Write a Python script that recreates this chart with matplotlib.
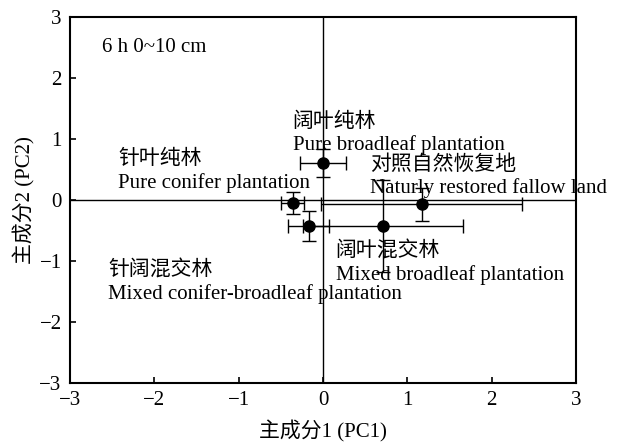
import matplotlib
matplotlib.use('Agg')
import matplotlib.pyplot as plt

plt.rcParams['font.family'] = ['Liberation Serif', 'Noto Sans CJK SC']
plt.rcParams['axes.unicode_minus'] = True

# PCA scores (mean +/- error) per forest type
names_cn = ['阔叶纯林', '针叶纯林', '对照自然恢复地', '阔叶混交林', '针阔混交林']
names_en = ['Pure broadleaf plantation', 'Pure conifer plantation',
            'Naturly restored fallow land', 'Mixed broadleaf plantation',
            'Mixed conifer-broadleaf plantation']
pc1 = [0.0, -0.36, 1.17, 0.71, -0.17]
pc2 = [0.60, -0.05, -0.07, -0.43, -0.43]
pc1_err = [0.27, 0.14, 1.19, 0.95, 0.24]
pc2_err = [0.23, 0.18, 0.27, 0.75, 0.25]

# label anchor (left edge, Chinese line) in data units
label_x = [-0.36, -2.43, 0.56, 0.15, -2.55]
label_y = [1.28, 0.66, 0.57, -0.85, -1.16]

fig = plt.figure(figsize=(6.18, 4.44), dpi=100)
ax = fig.add_axes([0.1133, 0.1374, 0.8188, 0.8243])

ax.axhline(0, color='black', lw=1.0, zorder=1)
ax.axvline(0, color='black', lw=1.0, zorder=1)

ax.errorbar(pc1, pc2, xerr=pc1_err, yerr=pc2_err, fmt='o', color='black',
            ms=8, elinewidth=1.0, capsize=5, capthick=1.0, zorder=3)

for cn, en, x, y in zip(names_cn, names_en, label_x, label_y):
    ax.text(x, y, cn, fontsize=15, va='center', ha='left')
    ax.text(x, y - 0.38, en, fontsize=15, va='center', ha='left')

ax.text(-2.62, 2.5, '6 h 0~10 cm', fontsize=15, va='center', ha='left')

ax.set_xlim(-3, 3)
ax.set_ylim(-3, 3)
ax.set_xticks([-3, -2, -1, 0, 1, 2, 3])
ax.set_yticks([-3, -2, -1, 0, 1, 2, 3])
ax.tick_params(direction='in', length=4, width=1.2, labelsize=15, pad=6,
               top=False, right=False)
for s in ax.spines.values():
    s.set_linewidth(1.5)

ax.set_xlabel('主成分1 (PC1)', fontsize=15, labelpad=7)
ax.set_ylabel('主成分2 (PC2)', fontsize=15, labelpad=3)

fig.savefig('out.png', dpi=100)
